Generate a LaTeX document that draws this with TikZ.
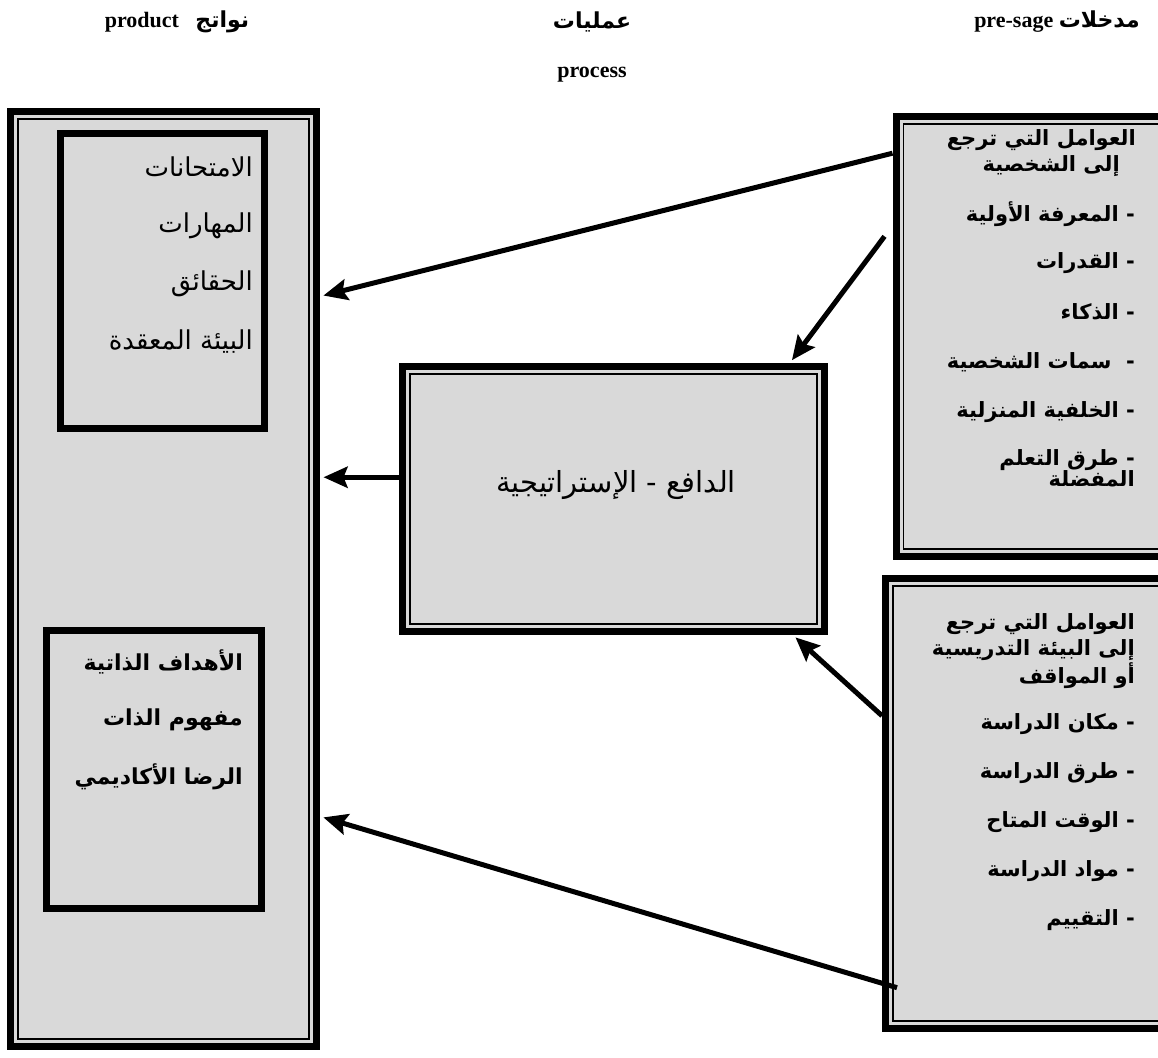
\documentclass[tikz,border=0pt]{standalone}
\usepackage{fontspec}
\setmainfont{Liberation Serif}
\newfontfamily\arabicfont[Script=Arabic]{DejaVu Sans}
\TeXXeTstate=1
\usetikzlibrary{calc,arrows.meta}
\definecolor{boxgray}{HTML}{D9D9D9}

\begin{document}
\begin{tikzpicture}[x=1pt,y=-1pt,
  framebox/.style={draw,line width=7pt,fill=boxgray,inner sep=0pt,
    path picture={\draw[line width=1.6pt]
      ([xshift=7.5pt,yshift=-7.5pt]path picture bounding box.north west) rectangle
      ([xshift=-7.5pt,yshift=7.5pt]path picture bounding box.south east);}},
  innerbox/.style={draw,line width=7pt,fill=boxgray,inner sep=0pt},
  title/.style={inner sep=0pt,font=\bfseries\fontsize{22}{26}\selectfont},
  item/.style={anchor=east,inner sep=0pt,font=\arabicfont\bfseries\fontsize{21}{25}\selectfont},
  plain/.style={anchor=east,inner sep=0pt,font=\arabicfont\fontsize{26}{30}\selectfont},
  arr/.style={line width=5pt,-{Stealth[length=24pt,width=21pt,inset=4pt]},shorten >=3.5pt}]
  \useasboundingbox (0,0) rectangle (1158,1057);
  % titles
  \node[title] (tin) at (1057,22) {\beginR{\arabicfont مدخلات} \beginL pre-sage\endL\endR};
  \node[title] (tproc) at (592,22) {\arabicfont\beginR عمليات\endR};
  \node[title] (tproc2) at (592,75) {process};
  \node[title] (tout) at (177,22) {\beginR{\arabicfont نواتج}\ \ \ \beginL product\endL\endR};
  % boxes
  \node[framebox,minimum width=306pt,minimum height=935pt] (prod) at (163.5,579) {};
  \node[innerbox,minimum width=204pt,minimum height=295pt] (res) at (162.5,281) {};
  \node[innerbox,minimum width=215pt,minimum height=278pt] (self) at (154,769.5) {};
  \node[framebox,minimum width=422pt,minimum height=265pt] (mid) at (613.5,499) {};
  \node[framebox,minimum width=272pt,minimum height=440pt] (pers) at (1032,336.5) {};
  \node[framebox,minimum width=283pt,minimum height=450pt] (env) at (1027,803.5) {};
  % product texts
  \node[plain] (r1) at (253,167) {\beginR الامتحانات\endR};
  \node[plain] (r2) at (253,226) {\beginR المهارات\endR};
  \node[plain] (r3) at (253,284) {\beginR الحقائق\endR};
  \node[plain] (r4) at (253,342) {\beginR البيئة المعقدة\endR};
  \node[item,font=\arabicfont\bfseries\fontsize{22}{26}\selectfont] (s1) at (243,662) {\beginR الأهداف الذاتية\endR};
  \node[item,font=\arabicfont\bfseries\fontsize{22}{26}\selectfont] (s2) at (243,720) {\beginR مفهوم الذات\endR};
  \node[item,font=\arabicfont\bfseries\fontsize{22}{26}\selectfont] (s3) at (243,777) {\beginR الرضا الأكاديمي\endR};
  % process text
  \node[inner sep=0pt,font=\arabicfont\fontsize{29}{33}\selectfont] (strat) at (616,485)
    {\beginR الدافع - الإستراتيجية\endR};
  % presage texts
  \node[item] (ph) at (1136,140) {\beginR العوامل التي ترجع\endR};
  \node[item] (ph2) at (1120,166) {\beginR إلى الشخصية\endR};
  \node[item] (p1) at (1135,214) {\beginR- المعرفة الأولية\endR};
  \node[item] (p2) at (1135,263) {\beginR- القدرات\endR};
  \node[item] (p3) at (1135,312) {\beginR- الذكاء\endR};
  \node[item] (p4) at (1135,362) {\beginR-\ \ سمات الشخصية\endR};
  \node[item] (p5) at (1135,412) {\beginR- الخلفية المنزلية\endR};
  \node[item] (p6) at (1135,460) {\beginR- طرق التعلم\endR};
  \node[item] (p7) at (1135,479) {\beginR المفضلة\endR};
  \node[item] (e0) at (1135,624) {\beginR العوامل التي ترجع\endR};
  \node[item] (e01) at (1135,650) {\beginR إلى البيئة التدريسية\endR};
  \node[item] (e02) at (1135,676) {\beginR أو المواقف\endR};
  \node[item] (e1) at (1135,724) {\beginR- مكان الدراسة\endR};
  \node[item] (e2) at (1135,773) {\beginR- طرق الدراسة\endR};
  \node[item] (e3) at (1135,822) {\beginR- الوقت المتاح\endR};
  \node[item] (e4) at (1135,871) {\beginR- مواد الدراسة\endR};
  \node[item] (e5) at (1135,920) {\beginR- التقييم\endR};
  % arrows
  \draw[arr] ($(pers.north west)!0.09!(pers.south west)$) -- ($(prod.north east)!0.2!(prod.south east)$);
  \draw[arr] ([xshift=-8pt]$(pers.north west)!0.276!(pers.south west)$) -- ($(mid.north west)!0.911!(mid.north east)$);
  \coordinate (m3) at ($(mid.north west)!0.42!(mid.south west)$);
  \draw[arr] (m3) -- (prod.east |- m3);
  \draw[arr] ($(env.north west)!0.308!(env.south west)$) -- ($(mid.south west)!0.918!(mid.south east)$);
  \draw[arr] ([xshift=15pt]$(env.north west)!0.903!(env.south west)$) -- ($(prod.north east)!0.752!(prod.south east)$);
\end{tikzpicture}
\end{document}
